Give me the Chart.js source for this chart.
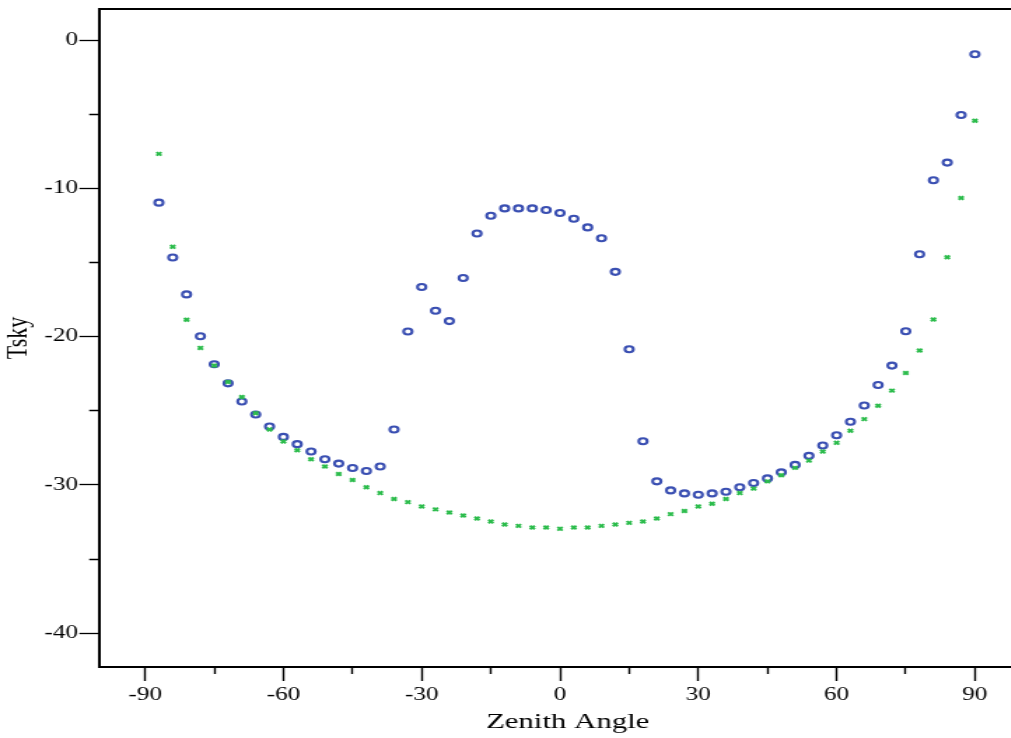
<!DOCTYPE html>
<html>
<head>
<meta charset="utf-8">
<title>Tsky vs Zenith Angle</title>
<script src="https://cdn.jsdelivr.net/npm/chart.js@4/dist/chart.umd.min.js"></script>
<style>
  html, body { margin: 0; padding: 0; background: #fff; overflow: hidden; }
  #wrap { width: 740px; height: 738px; transform: scaleX(1.4); transform-origin: 0 0; }
</style>
</head>
<body>
<div id="wrap"><canvas id="skyChart" width="740" height="738"></canvas></div>
<script>
const angles = [-87, -84, -81, -78, -75, -72, -69, -66, -63, -60, -57, -54, -51, -48, -45, -42, -39, -36, -33, -30,
  -27, -24, -21, -18, -15, -12, -9, -6, -3, 0, 3, 6, 9, 12, 15, 18, 21, 24, 27, 30,
  33, 36, 39, 42, 45, 48, 51, 54, 57, 60, 63, 66, 69, 72, 75, 78, 81, 84, 87, 90]

const tskyCircles = [-10.96, -14.66, -17.15, -19.97, -21.86, -23.15, -24.37, -25.25, -26.06, -26.76,
  -27.25, -27.75, -28.27, -28.56, -28.86, -29.06, -28.76, -26.26, -19.65, -16.65,
  -18.25, -18.95, -16.04, -13.04, -11.84, -11.35, -11.35, -11.35, -11.46, -11.66,
  -12.05, -12.63, -13.36, -15.63, -20.85, -27.05, -29.76, -30.37, -30.57, -30.66,
  -30.57, -30.46, -30.16, -29.87, -29.56, -29.15, -28.65, -28.04, -27.34, -26.65,
  -25.74, -24.64, -23.26, -21.95, -19.63, -14.44, -9.45, -8.26, -5.05, -0.95]

const tskyCrosses = [-7.67, -13.94, -18.86, -20.76, -21.95, -23.06, -24.07, -25.16, -26.26, -27.07,
  -27.66, -28.27, -28.76, -29.26, -29.67, -30.16, -30.55, -30.95, -31.16, -31.45,
  -31.65, -31.86, -32.06, -32.26, -32.47, -32.67, -32.76, -32.87, -32.87, -32.96,
  -32.87, -32.87, -32.76, -32.67, -32.56, -32.47, -32.26, -31.97, -31.76, -31.45,
  -31.27, -30.95, -30.55, -30.25, -29.76, -29.35, -28.85, -28.36, -27.75, -27.16,
  -26.35, -25.56, -24.66, -23.64, -22.45, -20.93, -18.84, -14.64, -10.65, -5.44]

const xLabelEvery = 30
const yLabelEvery = 10

function toPoints(values){
  return angles.map((a, i) => ({ x: a, y: values[i] }))
}

const serif = "'Liberation Serif', 'Times New Roman', serif"

function drawChart(){
  const config = {
    type: 'scatter',
    data: {
      datasets: [
        {
          label: 'crosses',
          data: toPoints(tskyCrosses),
          pointStyle: 'crossRot',
          pointRadius: 2.5,
          pointBorderWidth: 2,
          borderColor: '#2cbc4c',
          backgroundColor: '#2cbc4c',
          order: 0
        },
        {
          label: 'circles',
          data: toPoints(tskyCircles),
          pointStyle: 'circle',
          pointRadius: 3,
          pointBorderWidth: 2.1,
          borderColor: '#3a4fb2',
          backgroundColor: '#ffffff',
          order: 1
        }
      ]
    },
    options: {
      responsive: false,
      animation: false,
      events: [],
      layout: { padding: { top: 9, right: 10.7, left: 0, bottom: 0 } },
      plugins: { legend: { display: false }, tooltip: { enabled: false } },
      scales: {
        x: {
          type: 'linear',
          position: 'bottom',
          min: -100,
          max: 100,
          afterFit: s => { s.height = 71 },
          border: { display: true, color: '#000', width: 2 },
          grid: {
            drawOnChartArea: false,
            tickLength: 14,
            tickWidth: 1.4,
            tickColor: '#000',
            tickBorderDash: ctx => (ctx.tick && ctx.tick.value % xLabelEvery !== 0) ? [6, 20] : []
          },
          ticks: {
            stepSize: 15,
            includeBounds: false,
            autoSkip: false,
            maxRotation: 0,
            padding: 3,
            color: '#000',
            font: { family: serif, size: 18 },
            callback: v => v % xLabelEvery === 0 ? String(v) : ''
          },
          title: {
            display: true,
            text: '  Zenith Angle',
            color: '#000',
            font: { family: serif, size: 22 },
            padding: { top: 0, bottom: 3 }
          }
        },
        xTop: {
          type: 'linear',
          position: 'top',
          min: -100,
          max: 100,
          afterFit: s => { s.height = 0 },
          border: { display: true, color: '#000', width: 2 },
          grid: { display: false },
          ticks: { display: false }
        },
        y: {
          type: 'linear',
          position: 'left',
          min: -42.28,
          max: 2.1,
          afterFit: s => {
            s.width = 70.7
            s.paddingTop = 0
            s.paddingBottom = 0
          },
          border: { display: true, color: '#000', width: 2 },
          grid: {
            drawOnChartArea: false,
            tickLength: 14,
            tickWidth: 1.3,
            tickColor: '#000',
            tickBorderDash: ctx => (ctx.tick && ctx.tick.value % yLabelEvery !== 0) ? [0, 7, 7, 0] : []
          },
          ticks: {
            stepSize: 5,
            includeBounds: false,
            autoSkip: false,
            padding: 1,
            color: '#000',
            font: { family: serif, size: 18 },
            callback: v => v % yLabelEvery === 0 ? String(v) : ''
          },
          title: {
            display: true,
            text: 'Tsky',
            color: '#000',
            font: { family: serif, size: 22 },
            padding: { top: 0, bottom: 5 }
          }
        }
      }
    }
  }
  new Chart(document.getElementById('skyChart').getContext('2d'), config)
}

drawChart()
</script>
</body>
</html>
